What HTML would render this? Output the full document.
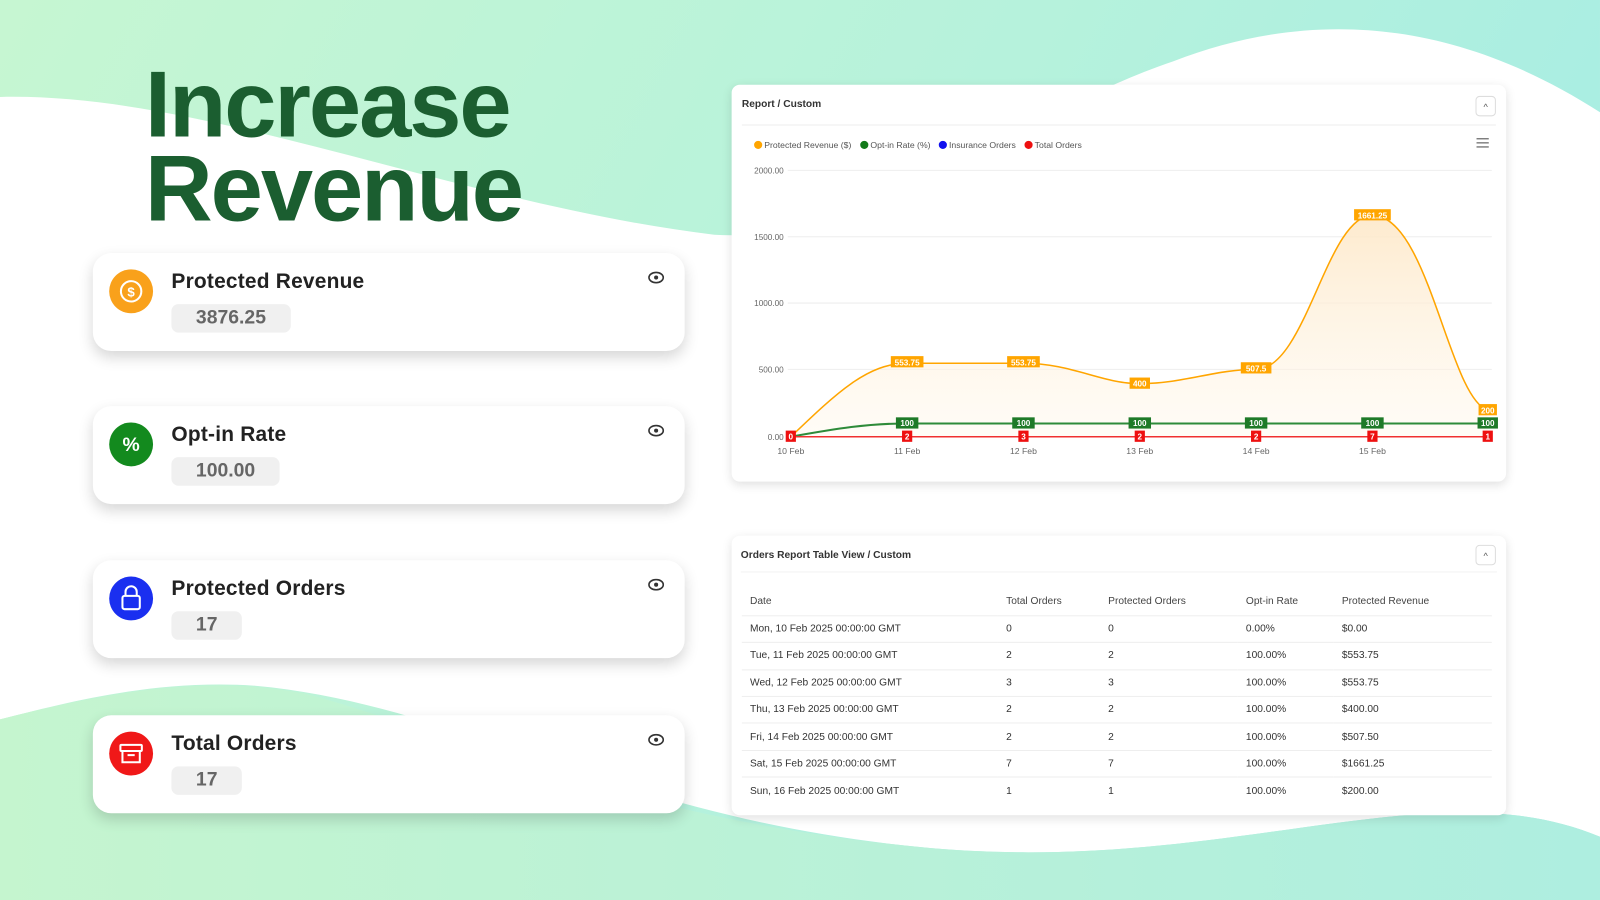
<!DOCTYPE html>
<html><head><meta charset="utf-8"><style>
*{margin:0;padding:0;box-sizing:border-box}
html,body{width:1600px;height:900px;overflow:hidden;font-family:"Liberation Sans",sans-serif}
#w{position:absolute;left:0;top:0;width:1568px;height:882px;transform:scale(1.0204);transform-origin:0 0}
.card{position:absolute;background:#fff;border-radius:18px;box-shadow:0 6px 14px rgba(0,0,0,.16)}
.ic{position:absolute;left:16px;top:16px;width:43px;height:43px;border-radius:50%}
.t{position:absolute;left:77px;top:16px;font-size:20.5px;color:#222;font-weight:bold;letter-spacing:.2px}
.v{position:absolute;left:77px;top:50px;height:28px;padding:0 24px;border-radius:7px;background:#f0f0f0;color:#666;font-weight:bold;font-size:19px;line-height:28px}
.eye{position:absolute;right:20px;top:18px}
.tab{position:absolute;background:#fff;border-radius:8px;box-shadow:0 3px 10px rgba(0,0,0,.12)}
table{border-collapse:collapse;font-size:10px;color:#333}
td{height:26.4px;border-bottom:1px solid #eee;padding-left:8px}
</style></head><body>
<div id="w">
<svg width="1568" height="882" style="position:absolute;left:0;top:0">
<defs>
<linearGradient id="bg" x1="0" y1="0" x2="1" y2="0.3"><stop offset="0" stop-color="#c6f6d2"/><stop offset="0.6" stop-color="#b6f2dc"/><stop offset="1" stop-color="#a8ede3"/></linearGradient>
<linearGradient id="bb" x1="0" y1="0" x2="1" y2="0"><stop offset="0" stop-color="#c5f5cf"/><stop offset="1" stop-color="#aeeee0"/></linearGradient>
<linearGradient id="rf" x1="0" y1="0" x2="0" y2="1"><stop offset="0" stop-color="#fde8c8" stop-opacity=".9"/><stop offset="1" stop-color="#fff7ea" stop-opacity=".4"/></linearGradient>
</defs>
<rect width="1568" height="882" fill="url(#bg)"/>
<path d="M0,95 C200,90 450,200 700,230 C850,240 1000,110 1150,60 C1280,10 1420,15 1568,110 L1568,820 C1400,750 1200,860 900,830 C600,800 450,690 250,672 C150,665 60,690 0,705 Z" fill="#fff"/>
<path d="M0,705 C100,680 200,660 300,680 C450,720 600,800 900,830 C1200,860 1400,750 1568,820 L1568,882 L0,882 Z" fill="url(#bb)"/>
</svg>
<div style="position:absolute;left:142px;top:62px;font-size:92px;font-weight:bold;color:#1b5e30;line-height:82px;letter-spacing:-2px">Increase<br>Revenue</div>

<div class="card" style="left:91px;top:248px;width:580px;height:96px">
<div class="ic" style="background:#f9a11b"><svg width="43" height="43"><circle cx="21.5" cy="21.5" r="10" fill="none" stroke="#fff" stroke-width="2"/><text x="21.5" y="26.5" font-size="13" font-weight="bold" fill="#fff" text-anchor="middle" font-family="Liberation Sans">$</text></svg></div>
<div class="t">Protected Revenue</div><div class="v">3876.25</div>
<svg class="eye" width="16" height="12"><ellipse cx="8" cy="6" rx="7" ry="5" fill="none" stroke="#333" stroke-width="1.6"/><circle cx="8" cy="6" r="2" fill="#333"/></svg></div>

<div class="card" style="left:91px;top:398px;width:580px;height:96px">
<div class="ic" style="background:#138a1e"><svg width="43" height="43"><text x="21.5" y="28" font-size="19" font-weight="bold" fill="#fff" text-anchor="middle" font-family="Liberation Sans">%</text></svg></div>
<div class="t">Opt-in Rate</div><div class="v">100.00</div>
<svg class="eye" width="16" height="12"><ellipse cx="8" cy="6" rx="7" ry="5" fill="none" stroke="#333" stroke-width="1.6"/><circle cx="8" cy="6" r="2" fill="#333"/></svg></div>

<div class="card" style="left:91px;top:549px;width:580px;height:96px">
<div class="ic" style="background:#1a2ff0"><svg width="43" height="43"><rect x="13" y="19" width="17" height="13" rx="2" fill="none" stroke="#fff" stroke-width="2"/><path d="M16,19 v-4 a5.5,5.5 0 0 1 11,0 v4" fill="none" stroke="#fff" stroke-width="2"/></svg></div>
<div class="t">Protected Orders</div><div class="v">17</div>
<svg class="eye" width="16" height="12"><ellipse cx="8" cy="6" rx="7" ry="5" fill="none" stroke="#333" stroke-width="1.6"/><circle cx="8" cy="6" r="2" fill="#333"/></svg></div>

<div class="card" style="left:91px;top:701px;width:580px;height:96px">
<div class="ic" style="background:#f01818"><svg width="43" height="43"><rect x="11" y="13" width="21" height="6" rx="1" fill="none" stroke="#fff" stroke-width="2"/><path d="M13,19 v11 h17 v-11 M18,23 h7" fill="none" stroke="#fff" stroke-width="2"/></svg></div>
<div class="t">Total Orders</div><div class="v">17</div>
<svg class="eye" width="16" height="12"><ellipse cx="8" cy="6" rx="7" ry="5" fill="none" stroke="#333" stroke-width="1.6"/><circle cx="8" cy="6" r="2" fill="#333"/></svg></div>

<div class="tab" style="left:717px;top:83px;width:759px;height:389px">
<div style="position:absolute;left:10px;top:14px;font-size:10px;font-weight:bold;color:#333">Report / Custom</div>
<div style="position:absolute;right:10px;top:11px;width:20px;height:20px;border:1px solid #ddd;border-radius:4px;font-size:9px;text-align:center;line-height:20px;color:#555">^</div>
<div style="position:absolute;left:10px;right:10px;top:39px;border-top:1px solid #eee"></div>
</div>
<svg width="1568" height="882" style="position:absolute;left:0;top:0" font-family="Liberation Sans">
<g font-size="8.5" fill="#555">
<circle cx="743" cy="142" r="4" fill="#ffa500"/><text x="749" y="145">Protected Revenue ($)</text>
<circle cx="847" cy="142" r="4" fill="#137a1a"/><text x="853" y="145">Opt-in Rate (%)</text>
<circle cx="924" cy="142" r="4" fill="#1010ee"/><text x="930" y="145">Insurance Orders</text>
<circle cx="1008" cy="142" r="4" fill="#ee1010"/><text x="1014" y="145">Total Orders</text>
</g>
<g stroke="#666" stroke-width="1.2"><line x1="1447" y1="136" x2="1459" y2="136"/><line x1="1447" y1="140" x2="1459" y2="140"/><line x1="1447" y1="144" x2="1459" y2="144"/></g>
<g stroke="#eee"><line x1="772" y1="167" x2="1462" y2="167"/><line x1="772" y1="232" x2="1462" y2="232"/><line x1="772" y1="297" x2="1462" y2="297"/><line x1="772" y1="362" x2="1462" y2="362"/><line x1="772" y1="428" x2="1462" y2="428"/></g>
<g font-size="8" fill="#666" text-anchor="end"><text x="768" y="170">2000.00</text><text x="768" y="235">1500.00</text><text x="768" y="300">1000.00</text><text x="768" y="365">500.00</text><text x="768" y="431">0.00</text></g>
<g font-size="8.5" fill="#666" text-anchor="middle"><text x="775" y="445">10 Feb</text><text x="889" y="445">11 Feb</text><text x="1003" y="445">12 Feb</text><text x="1117" y="445">13 Feb</text><text x="1231" y="445">14 Feb</text><text x="1345" y="445">15 Feb</text></g>
<path d="M775,428 C820,385 850,356 889,356 C930,356 960,356 1003,356 C1050,356 1080,376 1117,376 C1160,376 1190,362 1231,362 C1280,362 1300,211 1345,211 C1400,211 1420,390 1458,402 L1458,428 L775,428Z" fill="url(#rf)"/>
<path d="M775,428 C820,385 850,356 889,356 C930,356 960,356 1003,356 C1050,356 1080,376 1117,376 C1160,376 1190,362 1231,362 C1280,362 1300,211 1345,211 C1400,211 1420,390 1458,402" fill="none" stroke="#ffa500" stroke-width="1.5"/>
<path d="M775,428 C820,420 850,415 889,415 L1458,415" fill="none" stroke="#2e8b3a" stroke-width="2"/>
<line x1="775" y1="428" x2="1458" y2="428" stroke="#f03030" stroke-width="1.5"/>
<g font-size="8" font-weight="bold" fill="#fff" text-anchor="middle">
<g fill="#ffa500"><rect x="873" y="349" width="32" height="11"/><rect x="987" y="349" width="32" height="11"/><rect x="1107" y="370" width="20" height="11"/><rect x="1216" y="355" width="30" height="11"/><rect x="1327" y="205" width="36" height="11"/><rect x="1449" y="396" width="18" height="11"/></g>
<text x="889" y="358">553.75</text><text x="1003" y="358">553.75</text><text x="1117" y="379">400</text><text x="1231" y="364">507.5</text><text x="1345" y="214">1661.25</text><text x="1458" y="405">200</text>
<g fill="#1e7a28"><rect x="878" y="409" width="22" height="11"/><rect x="992" y="409" width="22" height="11"/><rect x="1106" y="409" width="22" height="11"/><rect x="1220" y="409" width="22" height="11"/><rect x="1334" y="409" width="22" height="11"/><rect x="1448" y="409" width="20" height="11"/></g>
<text x="889" y="417.5">100</text><text x="1003" y="417.5">100</text><text x="1117" y="417.5">100</text><text x="1231" y="417.5">100</text><text x="1345" y="417.5">100</text><text x="1458" y="417.5">100</text>
<g fill="#ee1010"><rect x="770" y="422" width="10" height="11"/><rect x="884" y="422" width="10" height="11"/><rect x="998" y="422" width="10" height="11"/><rect x="1112" y="422" width="10" height="11"/><rect x="1226" y="422" width="10" height="11"/><rect x="1340" y="422" width="10" height="11"/><rect x="1453" y="422" width="10" height="11"/></g>
<text x="775" y="430.5">0</text><text x="889" y="430.5">2</text><text x="1003" y="430.5">3</text><text x="1117" y="430.5">2</text><text x="1231" y="430.5">2</text><text x="1345" y="430.5">7</text><text x="1458" y="430.5">1</text>
</g></svg>

<div class="tab" style="left:717px;top:525px;width:759px;height:274px">
<div style="position:absolute;left:9px;top:14px;font-size:10px;font-weight:bold;color:#333">Orders Report Table View / Custom</div>
<div style="position:absolute;right:10px;top:9px;width:20px;height:20px;border:1px solid #ddd;border-radius:4px;font-size:9px;text-align:center;line-height:20px;color:#555">^</div>
<div style="position:absolute;left:9px;right:9px;top:35px;border-top:1px solid #f2f2f2"></div>
<table style="position:absolute;left:10px;top:52px;width:735px">
<tr style="color:#444"><td style="width:251px">Date</td><td style="width:100px">Total Orders</td><td style="width:135px">Protected Orders</td><td style="width:94px">Opt-in Rate</td><td>Protected Revenue</td></tr>
<tr><td>Mon, 10 Feb 2025 00:00:00 GMT</td><td>0</td><td>0</td><td>0.00%</td><td>$0.00</td></tr>
<tr><td>Tue, 11 Feb 2025 00:00:00 GMT</td><td>2</td><td>2</td><td>100.00%</td><td>$553.75</td></tr>
<tr><td>Wed, 12 Feb 2025 00:00:00 GMT</td><td>3</td><td>3</td><td>100.00%</td><td>$553.75</td></tr>
<tr><td>Thu, 13 Feb 2025 00:00:00 GMT</td><td>2</td><td>2</td><td>100.00%</td><td>$400.00</td></tr>
<tr><td>Fri, 14 Feb 2025 00:00:00 GMT</td><td>2</td><td>2</td><td>100.00%</td><td>$507.50</td></tr>
<tr><td>Sat, 15 Feb 2025 00:00:00 GMT</td><td>7</td><td>7</td><td>100.00%</td><td>$1661.25</td></tr>
<tr><td style="border:none">Sun, 16 Feb 2025 00:00:00 GMT</td><td style="border:none">1</td><td style="border:none">1</td><td style="border:none">100.00%</td><td style="border:none">$200.00</td></tr>
</table></div>
</div>
</body></html>
